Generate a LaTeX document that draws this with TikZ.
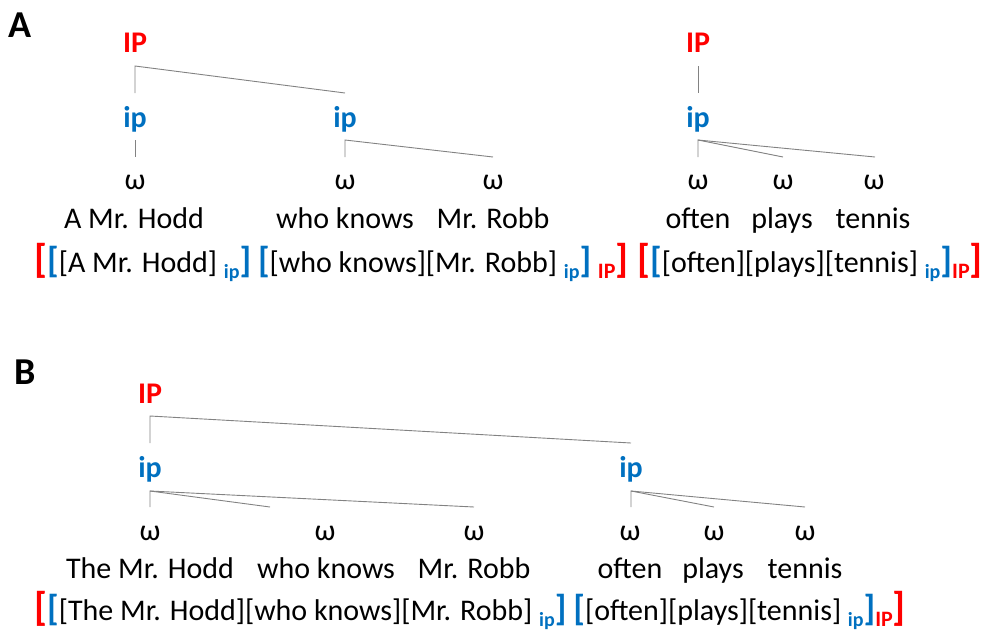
\documentclass[tikz,border=0pt]{standalone}
\usepackage{fontspec}
\setmainfont{Carlito}
\definecolor{ipred}{RGB}{255,0,0}
\definecolor{ipblue}{RGB}{0,112,192}
\definecolor{treeline}{RGB}{130,130,130}
\newcommand{\Rbr}[1]{{\fontsize{40}{40}\selectfont\bfseries\color{ipred}#1}}
\newcommand{\Bbr}[1]{{\fontsize{36}{36}\selectfont\bfseries\color{ipblue}#1}}
\newcommand{\Bsub}{\raisebox{-6pt}{\fontsize{20}{20}\selectfont\bfseries\color{ipblue}ip}}
\newcommand{\Rsub}{\raisebox{-6pt}{\fontsize{22}{22}\selectfont\bfseries\color{ipred}IP}}
\tikzset{
  lab/.style={inner sep=0pt, outer sep=0pt, anchor=base, font=\fontsize{30}{30}\selectfont},
  panel/.style={inner sep=0pt, anchor=base west, font=\fontsize{38}{38}\selectfont\bfseries},
  IPn/.style={lab, font=\fontsize{30}{30}\selectfont\bfseries, text=ipred},
  ipn/.style={lab, font=\fontsize{30}{30}\selectfont\bfseries, text=ipblue},
  wn/.style={lab},
  brk/.style={inner sep=0pt, anchor=base west, font=\fontsize{30}{30}\selectfont},
  branch/.style={draw=treeline, line width=0.9pt}
}
\begin{document}
\begin{tikzpicture}[x=1pt,y=-1pt]
\useasboundingbox (0,0) rectangle (987,632);
% ---------- Panel A ----------
\node[panel] (labA) at (8,37) {A};
\node[IPn] (IPa) at (135,52) {IP};
\node[ipn] (ipa1) at (135,127) {ip};
\node[ipn] (ipa2) at (345,127) {ip};
\node[wn] (wa1) at (135,189) {ω};
\node[wn] (wa2) at (345,189) {ω};
\node[wn] (wa3) at (493,189) {ω};
\node[wn] (ta1) at (134,228) {A Mr. Hodd};
\node[wn] (ta2) at (345,228) {who knows};
\node[wn] (ta3) at (493,228) {Mr. Robb};
\coordinate (jIPa) at (135,66);
\coordinate (eIPa1) at (135,93);
\coordinate (eIPa2) at (345,93);
\draw[branch] (eIPa1) -- (jIPa) -- (eIPa2);
\coordinate (jipa1) at (135,140);
\coordinate (eipa1) at (135,157);
\draw[branch] (jipa1) -- (eipa1);
\coordinate (jipa2) at (345,140);
\coordinate (eipa21) at (345,157);
\coordinate (eipa22) at (493,157);
\draw[branch] (eipa21) -- (jipa2) -- (eipa22);

\node[IPn] (IPb) at (698,52) {IP};
\node[ipn] (ipb1) at (698,127) {ip};
\node[wn] (wb1) at (698,189) {ω};
\node[wn] (wb2) at (783,189) {ω};
\node[wn] (wb3) at (874,189) {ω};
\node[wn] (tb1) at (698,228) {often};
\node[wn] (tb2) at (782,228) {plays};
\node[wn] (tb3) at (873,228) {tennis};
\coordinate (jIPb) at (698,66);
\coordinate (eIPb) at (698,93);
\draw[branch] (jIPb) -- (eIPb);
\coordinate (jipb) at (698,140);
\coordinate (eipb1) at (698,157);
\coordinate (eipb2) at (783,157);
\coordinate (eipb3) at (875,157);
\draw[branch] (eipb1) -- (jipb) -- (eipb2);
\draw[branch] (jipb) -- (eipb3);

\node[brk] (bra1) at (34,272) {\Rbr{[}\Bbr{[}[A Mr. Hodd] \Bsub\Bbr{]} \Bbr{[}[who knows][Mr. Robb] \Bsub\Bbr{]} \Rsub\Rbr{]}};
\node[brk] (bra2) at (637,272) {\Rbr{[}\Bbr{[}[often][plays][tennis] \Bsub\Bbr{]}\Rsub\Rbr{]}};

% ---------- Panel B ----------
\node[panel] (labB) at (14,384) {B};
\node[IPn] (IPc) at (150,403) {IP};
\node[ipn] (ipc1) at (150,477) {ip};
\node[ipn] (ipc2) at (631,477) {ip};
\node[wn] (wc1) at (150,540) {ω};
\node[wn] (wc2) at (325,540) {ω};
\node[wn] (wc3) at (474,540) {ω};
\node[wn] (wc4) at (630,540) {ω};
\node[wn] (wc5) at (714,540) {ω};
\node[wn] (wc6) at (805,540) {ω};
\node[wn] (tc1) at (150,578) {The Mr. Hodd};
\node[wn] (tc2) at (326,578) {who knows};
\node[wn] (tc3) at (474,578) {Mr. Robb};
\node[wn] (tc4) at (630,578) {often};
\node[wn] (tc5) at (713,578) {plays};
\node[wn] (tc6) at (805,578) {tennis};
\coordinate (jIPc) at (150,416);
\coordinate (eIPc1) at (150,443);
\coordinate (eIPc2) at (631,443);
\draw[branch] (eIPc1) -- (jIPc) -- (eIPc2);
\coordinate (jipc1) at (150,491);
\coordinate (eipc11) at (150,507);
\coordinate (eipc12) at (270,507);
\coordinate (eipc13) at (474,507);
\draw[branch] (eipc11) -- (jipc1) -- (eipc12);
\draw[branch] (jipc1) -- (eipc13);
\coordinate (jipc2) at (631,491);
\coordinate (eipc21) at (631,507);
\coordinate (eipc22) at (714,507);
\coordinate (eipc23) at (805,507);
\draw[branch] (eipc21) -- (jipc2) -- (eipc22);
\draw[branch] (jipc2) -- (eipc23);

\node[brk] (brc) at (34,620) {\Rbr{[}\Bbr{[}[The Mr. Hodd][who knows][Mr. Robb] \Bsub\Bbr{]} \Bbr{[}[often][plays][tennis] \Bsub\Bbr{]}\Rsub\Rbr{]}};
\end{tikzpicture}
\end{document}
